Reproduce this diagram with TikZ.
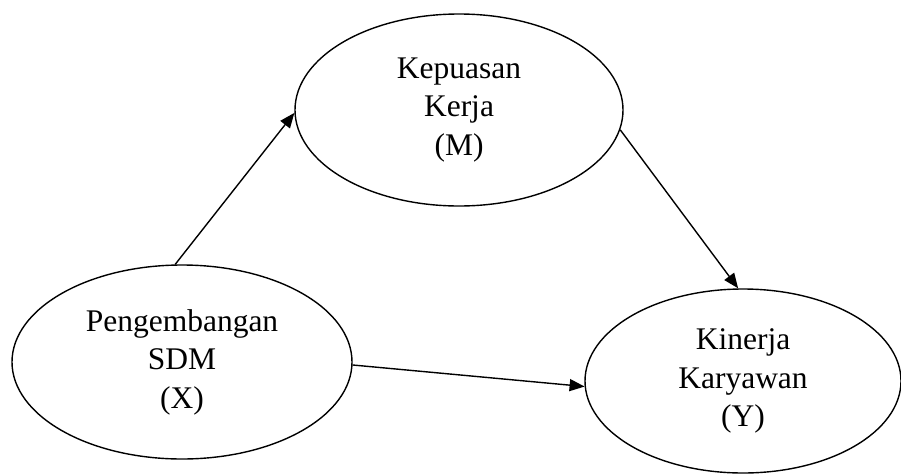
\documentclass[tikz,border=0pt]{standalone}
\usepackage{fontspec}
\setmainfont{Liberation Serif}
\usetikzlibrary{shapes.geometric,arrows.meta}
\begin{document}
\begin{tikzpicture}[x=1pt,y=-1pt,
  var/.style={ellipse,draw,line width=1.4pt,inner sep=0pt,align=center,
    font=\fontsize{31.5}{38.5}\selectfont},
  conn/.style={line width=1.4pt,-{Triangle[length=15pt,width=12pt]}}]
\useasboundingbox (0,0) rectangle (901,474);
\node[var,minimum width=328pt,minimum height=192pt] (M) at (459,110) {Kepuasan\\Kerja\\(M)};
\node[var,minimum width=340pt,minimum height=194pt] (X) at (182,362) {Pengembangan\\SDM\\(X)};
\node[var,minimum width=316pt,minimum height=184pt] (Y) at (743,381) {Kinerja\\Karyawan\\(Y)};
\draw[conn] (X.94) -- (M.181);
\draw[conn] (M.-7) -- (Y.93);
\draw[conn] (X.-1) -- (Y.182);
\end{tikzpicture}
\end{document}
